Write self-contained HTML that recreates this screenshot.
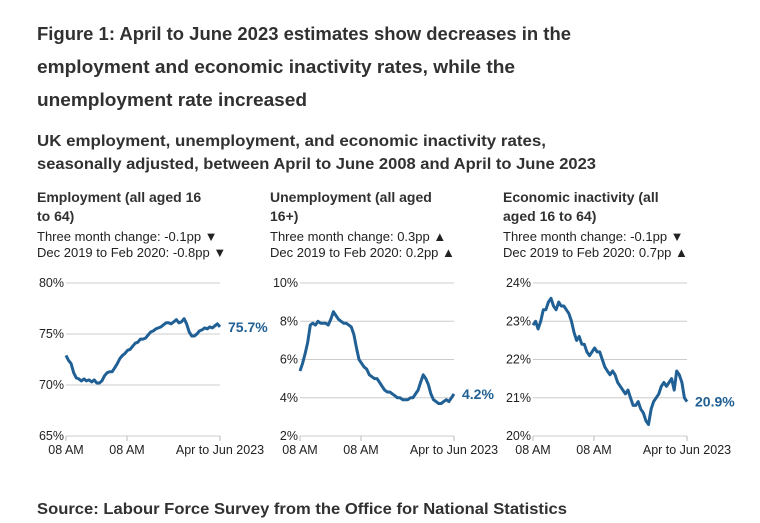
<!DOCTYPE html>
<html><head><meta charset="utf-8"><style>
body{margin:0;background:#fff;}
svg{display:block;font-family:"Liberation Sans",sans-serif;}
.t{font-weight:bold;fill:#323132;}
.s{fill:#222;font-size:13px;}
.tick{fill:#222;font-size:12.5px;}
.grid{stroke:#ccc;stroke-width:1;}
.line{fill:none;stroke:#206095;stroke-width:3;stroke-linejoin:round;}
.end{fill:#206095;font-weight:bold;font-size:14px;}
</style></head><body>
<svg id="chart" width="760" height="523" viewBox="0 0 760 523">
<text class="t" x="37" y="40" font-size="18" textLength="534" lengthAdjust="spacingAndGlyphs">Figure 1: April to June 2023 estimates show decreases in the</text>
<text class="t" x="37" y="73" font-size="18" textLength="478" lengthAdjust="spacingAndGlyphs">employment and economic inactivity rates, while the</text>
<text class="t" x="37" y="106" font-size="18" textLength="270" lengthAdjust="spacingAndGlyphs">unemployment rate increased</text>
<text class="t" x="37" y="146" font-size="16" textLength="509" lengthAdjust="spacingAndGlyphs">UK employment, unemployment, and economic inactivity rates,</text>
<text class="t" x="37" y="169" font-size="16" textLength="559" lengthAdjust="spacingAndGlyphs">seasonally adjusted, between April to June 2008 and April to June 2023</text>
<text class="t" x="37" y="514" font-size="16" textLength="530" lengthAdjust="spacingAndGlyphs">Source: Labour Force Survey from the Office for National Statistics</text>
<g id="panels"></g>
</svg>
<script>
const xTickLabels = ["08 AM","08 AM","Apr to Jun 2023"];
const employment = [72.9,72.4,72.1,71.2,70.7,70.6,70.4,70.6,70.4,70.5,70.3,70.5,70.2,70.2,70.4,70.9,71.2,71.3,71.3,71.7,72.1,72.6,72.9,73.1,73.4,73.5,73.8,74.1,74.2,74.5,74.5,74.6,74.9,75.2,75.3,75.5,75.6,75.7,75.9,76.1,76.1,76.0,76.2,76.4,76.1,76.2,76.5,76.0,75.2,74.8,74.8,75.0,75.3,75.4,75.6,75.5,75.7,75.6,75.8,76.0,75.7];
const unemployment = [5.4,5.8,6.3,6.9,7.8,7.9,7.8,8.0,7.9,7.9,7.9,7.8,8.1,8.5,8.3,8.1,8.0,7.9,7.9,7.8,7.7,7.3,6.6,6.0,5.8,5.6,5.5,5.2,5.1,5.0,5.0,4.8,4.6,4.4,4.3,4.3,4.2,4.1,4.0,4.0,3.9,3.9,3.9,4.0,4.0,4.2,4.4,4.8,5.2,5.0,4.7,4.2,3.9,3.8,3.7,3.7,3.8,3.9,3.8,4.0,4.2];
const inactivity = [22.9,23.0,22.8,23.0,23.3,23.3,23.5,23.6,23.4,23.3,23.5,23.4,23.4,23.3,23.2,23.0,22.7,22.5,22.6,22.4,22.4,22.2,22.1,22.2,22.3,22.2,22.2,22.0,21.8,21.7,21.6,21.7,21.6,21.4,21.3,21.2,21.1,21.2,21.0,20.8,20.8,20.9,20.7,20.6,20.4,20.3,20.7,20.9,21.0,21.1,21.3,21.4,21.3,21.4,21.5,21.2,21.7,21.6,21.4,21.0,20.9];
const empTicks = [65,70,75,80];
const unempTicks = [2,4,6,8,10];
const inactTicks = [20,21,22,23,24];
const empLabel = "75.7%", unempLabel = "4.2%", inactLabel = "20.9%";

const NS="http://www.w3.org/2000/svg";
const root=document.getElementById('panels');
function mk(tag,attrs,parent){const e=document.createElementNS(NS,tag);for(const k in attrs)e.setAttribute(k,attrs[k]);(parent||root).appendChild(e);return e;}

function panel(cfg){
  const g=mk('g',{});
  
  
  const tx=cfg.tx;
  cfg.titles.forEach((t,i)=>{
    const e=mk('text',{x:tx,y:202+i*19,class:'t','font-size':14},g);
    e.textContent=t;
    
    
  });
  cfg.notes.forEach((t,i)=>{
    const e=mk('text',{x:tx,y:241+i*16,class:'s'},g);
    e.textContent=t;
    
    
  });
  const x0=cfg.x0,x1=cfg.x0+154,yT=283,yB=436;
  const tk=cfg.ticks,mn=tk[0],mx=tk[tk.length-1];
  const ys=v=>yB-(v-mn)/(mx-mn)*(yB-yT);
  const n=cfg.data.length;
  const xs=i=>x0+i/(n-1)*(x1-x0);
  tk.forEach(v=>{
    const l=mk('line',{x1:x0,x2:x1,y1:ys(v),y2:ys(v),class:'grid'},g);
    
    
    const t=mk('text',{x:x0-2,y:ys(v)+4,class:'tick','text-anchor':'end'},g);
    t.textContent=v+'%';
    
    
  });
  const xticks=[0,(127-66)/154*(n-1),n-1];
  xticks.forEach((q,i)=>{
    const x=xs(q);
    const l=mk('line',{x1:x,x2:x,y1:yB,y2:yB+5,stroke:'#bbb'},g);
    
    
    const t=mk('text',{x:x,y:454,class:'tick','text-anchor':'middle'},g);
    t.textContent=xTickLabels[i];
    
    
  });
  const p=mk('path',{d:cfg.data.map((v,i)=>(i?'L':'M')+xs(i).toFixed(1)+','+ys(v).toFixed(1)).join(''),class:'line'},g);
  
  
  const e=mk('text',{x:x1+8,y:ys(cfg.data[n-1])+5,class:'end'},g);
  e.textContent=cfg.label;
  
  
}
panel({name:'employment-panel',tx:37,x0:66,ticks:empTicks,data:employment,label:empLabel,
  titles:["Employment (all aged 16","to 64)"],
  notes:["Three month change: -0.1pp \u25BC","Dec 2019 to Feb 2020: -0.8pp \u25BC"]});
panel({name:'unemployment-panel',tx:270,x0:300,ticks:unempTicks,data:unemployment,label:unempLabel,
  titles:["Unemployment (all aged","16+)"],
  notes:["Three month change: 0.3pp \u25B2","Dec 2019 to Feb 2020: 0.2pp \u25B2"]});
panel({name:'inactivity-panel',tx:503,x0:533,ticks:inactTicks,data:inactivity,label:inactLabel,
  titles:["Economic inactivity (all","aged 16 to 64)"],
  notes:["Three month change: -0.1pp \u25BC","Dec 2019 to Feb 2020: 0.7pp \u25B2"]});
</script>
</body></html>
